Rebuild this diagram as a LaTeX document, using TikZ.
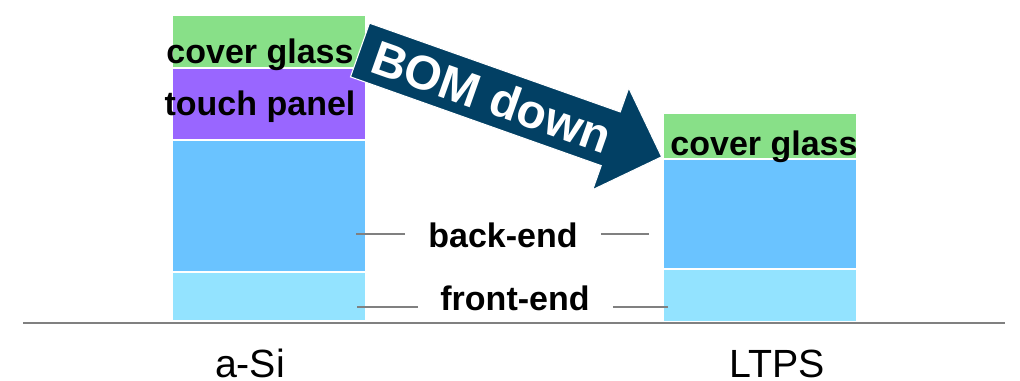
\documentclass[tikz,border=0pt]{standalone}
\usepackage{fontspec}
\setmainfont{Liberation Sans}
\usetikzlibrary{calc, positioning}
\definecolor{glassg}{HTML}{88E088}
\definecolor{touchp}{HTML}{9966FF}
\definecolor{backb}{HTML}{6AC3FF}
\definecolor{frontb}{HTML}{93E3FF}
\definecolor{bomblue}{HTML}{024064}
\definecolor{leadg}{HTML}{808080}

\begin{document}
\begin{tikzpicture}[x=0.75pt, y=-0.75pt,
            layer/.style={draw=white, line width=1.5pt, outer sep=0pt, minimum width=145.5pt, inner sep=0pt},
            lbl/.style={font=\fontsize{25.5}{28}\selectfont\bfseries, inner sep=0pt, anchor=base},
            leader/.style={draw=leadg, line width=2.2pt},
            tech/.style={font=\fontsize{29.5}{32}\selectfont, inner sep=0pt, anchor=base}]
        \useasboundingbox (0,0) rectangle (1020,380);
        % a-Si stack
        \node[layer, fill=glassg, minimum height=40.1pt] (cg1) at (268.5,41.25) {};
        \node[layer, fill=touchp, minimum height=54pt, below=0pt of cg1] (tp1) {};
        \node[layer, fill=backb, minimum height=99pt, below=0pt of tp1] (be1) {};
        \node[layer, fill=frontb, minimum height=37.1pt, below=0pt of be1] (fe1) {};
        % LTPS stack
        \node[layer, fill=glassg, minimum height=34.5pt] (cg2) at (759.5,135.5) {};
        \node[layer, fill=backb, minimum height=82.5pt, below=0pt of cg2] (be2) {};
        \node[layer, fill=frontb, minimum height=39.75pt, below=0pt of be2] (fe2) {};
        % ground line
        \coordinate (gl) at (23,323);
        \coordinate (gr) at (1005,323);
        \draw[leadg, line width=1.4pt] (gl) -- (gr);
        % layer names
        \node[lbl] (cgt1) at (260,63) {cover glass};
        \node[lbl] (tpt1) at (260,115) {touch panel};
        \node[lbl] (cgt2) at (764,155) {cover glass};
        \node[lbl] (bet) at (503,247) {back-end};
        \node[lbl] (fet) at (515,310) {front-end};
        \draw[leader] ($(bet.base west)+(-23,-13)$) -- ($(bet.base west)+(-72,-13)$);
        \draw[leader] ($(bet.base east)+(23,-13)$) -- ($(bet.base east)+(71,-13)$);
        \draw[leader] ($(fet.base west)+(-22,-3)$) -- ($(fet.base west)+(-83,-3)$);
        \draw[leader] ($(fet.base east)+(23,-3)$) -- ($(fet.base east)+(78,-3)$);
        % BOM arrow
        \begin{scope}[shift={(360,50)}, rotate=-19.5]
            \coordinate (tt) at (0,-28.5);
            \coordinate (tb) at (0,28.5);
            \draw[fill=bomblue, draw=white, line width=0.8pt] (tt) -- (266,-28.5) -- (266,-54) -- (320,0)
                -- (266,54) -- (266,28.5) -- (tb) -- cycle;
            \node[rotate=-19.5, text=white, font=\fontsize{36}{40}\selectfont\bfseries, inner sep=0pt] (bom) at (140,0) {BOM down};
        \end{scope}
        % technologies
        \node[tech] (asi) at (250,377) {a-Si};
        \node[tech] (ltps) at (777,377) {LTPS};
    \end{tikzpicture}
\end{document}
